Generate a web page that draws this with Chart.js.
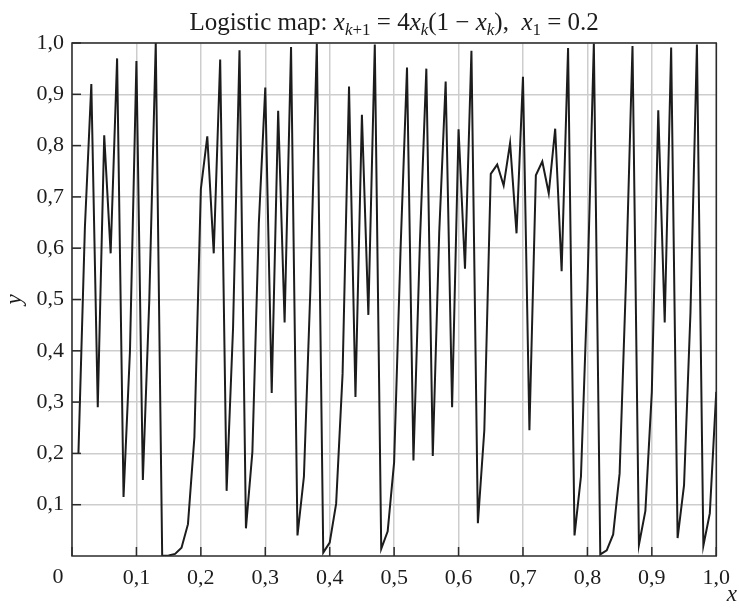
<!DOCTYPE html>
<html><head><meta charset="utf-8">
<script src="https://cdn.jsdelivr.net/npm/chart.js@4.4.1/dist/chart.umd.min.js"></script>
<style>html,body{margin:0;padding:0;background:#fff}#wrap{width:739px;height:609px;position:relative}</style>
</head><body><div id="wrap"><canvas id="c" width="739" height="609"></canvas></div>
<script>
// x positions of the iterates (k/100)
const xs = [0.01,0.02,0.03,0.04,0.05,0.06,0.07,0.08,0.09,0.10,
            0.11,0.12,0.13,0.14,0.15,0.16,0.17,0.18,0.19,0.20,
            0.21,0.22,0.23,0.24,0.25,0.26,0.27,0.28,0.29,0.30,
            0.31,0.32,0.33,0.34,0.35,0.36,0.37,0.38,0.39,0.40,
            0.41,0.42,0.43,0.44,0.45,0.46,0.47,0.48,0.49,0.50,
            0.51,0.52,0.53,0.54,0.55,0.56,0.57,0.58,0.59,0.60,
            0.61,0.62,0.63,0.64,0.65,0.66,0.67,0.68,0.69,0.70,
            0.71,0.72,0.73,0.74,0.75,0.76,0.77,0.78,0.79,0.80,
            0.81,0.82,0.83,0.84,0.85,0.86,0.87,0.88,0.89,0.90,
            0.91,0.92,0.93,0.94,0.95,0.96,0.97,0.98,0.99,1.00];
// values
const ys = [0.20,0.64,0.92,0.29,0.82,0.59,0.97,0.115,0.40,0.965,
            0.148,0.50,1.00,0.0003,0.001,0.004,0.016,0.062,0.232,0.715,
            0.818,0.59,0.968,0.127,0.445,0.986,0.054,0.203,0.648,0.913,
            0.318,0.868,0.455,0.992,0.040,0.155,0.52,0.999,0.0066,0.026,
            0.102,0.355,0.915,0.31,0.86,0.47,0.997,0.014,0.048,0.183,
            0.598,0.952,0.186,0.61,0.95,0.195,0.63,0.925,0.29,0.832,
            0.56,0.985,0.064,0.245,0.745,0.763,0.722,0.805,0.629,0.934,
            0.245,0.742,0.769,0.707,0.833,0.555,0.99,0.04,0.155,0.52,
            0.999,0.003,0.011,0.042,0.161,0.54,0.994,0.022,0.088,0.32,
            0.869,0.455,0.991,0.035,0.138,0.475,0.997,0.02,0.083,0.32];
const xTickValues = [0,0.1,0.2,0.3,0.4,0.5,0.6,0.7,0.8,0.9,1.0];
const xTickLabels = ['0','0,1','0,2','0,3','0,4','0,5','0,6','0,7','0,8','0,9','1,0'];
const yTickValues = [0.1,0.2,0.3,0.4,0.5,0.6,0.7,0.8,0.9,1.0];
const yTickLabels = ['0,1','0,2','0,3','0,4','0,5','0,6','0,7','0,8','0,9','1,0'];
const xTitle = 'x';
const yTitle = 'y';
const titleParts = [
  {t:'Logistic map: ', s:'n'}, {t:'x', s:'i'}, {t:'k', s:'isub'}, {t:'+1', s:'sub'},
  {t:' = 4', s:'n'}, {t:'x', s:'i'}, {t:'k', s:'isub'}, {t:'(1 \u2212 ', s:'n'},
  {t:'x', s:'i'}, {t:'k', s:'isub'}, {t:'),  ', s:'n'}, {t:'x', s:'i'}, {t:'1', s:'sub'},
  {t:' = 0.2', s:'n'}
];

const SERIF = '"Liberation Serif", "Times New Roman", serif';
const INK = '#1c1c1c';

const deco = {
  id: 'deco',
  afterDraw(chart) {
    const ctx = chart.ctx, a = chart.chartArea;
    const sx = chart.scales.x, sy = chart.scales.y;
    ctx.save();
    // inner tick marks
    ctx.strokeStyle = '#2b2b2b'; ctx.lineWidth = 1.5;
    xTickValues.forEach(v => {
      const p = sx.getPixelForValue(v);
      ctx.beginPath(); ctx.moveTo(p, a.bottom); ctx.lineTo(p, a.bottom - 9); ctx.stroke();
    });
    yTickValues.forEach(v => {
      const p = sy.getPixelForValue(v);
      ctx.beginPath(); ctx.moveTo(a.left, p); ctx.lineTo(a.left + 9, p); ctx.stroke();
    });
    // frame
    ctx.strokeRect(a.left, a.top, a.right - a.left, a.bottom - a.top);

    ctx.fillStyle = INK;
    // origin label
    ctx.font = '22px ' + SERIF;
    ctx.textAlign = 'center'; ctx.textBaseline = 'alphabetic';
    ctx.fillText(xTickLabels[0], a.left - 14, 583);
    // axis titles
    ctx.font = 'italic 23px ' + SERIF;
    ctx.textAlign = 'right';
    ctx.fillText(xTitle, 737, 601);
    ctx.save();
    ctx.translate(21, (a.top + a.bottom) / 2);
    ctx.rotate(-Math.PI / 2);
    ctx.textAlign = 'center';
    ctx.fillText(yTitle, 0, 0);
    ctx.restore();
    // title with italic math and subscripts
    const fonts = {
      n: '25px ' + SERIF, i: 'italic 25px ' + SERIF,
      sub: '17px ' + SERIF, isub: 'italic 17px ' + SERIF
    };
    let w = 0;
    titleParts.forEach(p => { ctx.font = fonts[p.s]; w += ctx.measureText(p.t).width; });
    let x = (a.left + a.right) / 2 - w / 2;
    const base = 30;
    ctx.textAlign = 'left';
    titleParts.forEach(p => {
      ctx.font = fonts[p.s];
      const dy = (p.s === 'sub' || p.s === 'isub') ? 5 : 0;
      ctx.fillText(p.t, x, base + dy);
      x += ctx.measureText(p.t).width;
    });
    ctx.restore();
  }
};

new Chart(document.getElementById('c'), {
  type: 'scatter',
  data: {
    datasets: [{
      data: xs.map((x, i) => ({x: x, y: ys[i]})),
      showLine: true,
      borderColor: INK,
      borderWidth: 2,
      pointRadius: 0,
      tension: 0,
      fill: false
    }]
  },
  options: {
    responsive: false,
    animation: false,
    devicePixelRatio: 1,
    layout: { padding: { top: 43, right: 17, left: 0, bottom: 0 } },
    plugins: { legend: { display: false }, title: { display: false }, tooltip: { enabled: false } },
    scales: {
      x: {
        type: 'linear', min: 0, max: 1,
        afterBuildTicks: s => { s.ticks = xTickValues.map(v => ({value: v})); },
        afterFit: s => { s.height = 53; },
        grid: { color: '#cdcdcd', lineWidth: 1.5, drawTicks: false },
        border: { display: false },
        ticks: {
          autoSkip: false, maxRotation: 0, padding: 9,
          color: INK, font: { family: SERIF, size: 22 },
          callback: v => { const i = xTickValues.findIndex(t => Math.abs(t - v) < 1e-9); return i <= 0 ? '' : xTickLabels[i]; }
        }
      },
      y: {
        type: 'linear', min: 0, max: 1,
        afterBuildTicks: s => { s.ticks = yTickValues.map(v => ({value: v})); },
        afterFit: s => { s.width = 72; },
        grid: { color: '#cdcdcd', lineWidth: 1.5, drawTicks: false },
        border: { display: false },
        ticks: {
          autoSkip: false, padding: 8,
          color: INK, font: { family: SERIF, size: 22 },
          callback: v => { const i = yTickValues.findIndex(t => Math.abs(t - v) < 1e-9); return i < 0 ? '' : yTickLabels[i]; }
        }
      }
    }
  },
  plugins: [deco]
});
</script>
</body></html>
